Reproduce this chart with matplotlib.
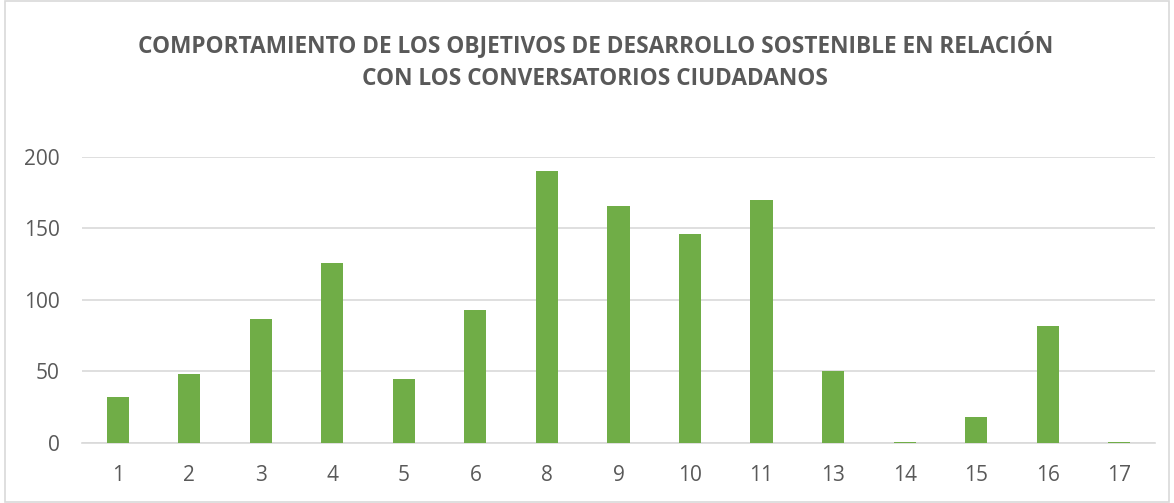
import matplotlib.pyplot as plt
import numpy as np

# Objetivos (ODS) y valores
ods = ["1", "2", "3", "4", "5", "6", "8", "9", "10", "11", "13", "14", "15", "16", "17"]
valores = [32, 48, 87, 126, 45, 93, 190, 166, 146, 170, 50, 1, 18, 82, 1]
yticks = [0, 50, 100, 150, 200]

titulo = "COMPORTAMIENTO DE LOS OBJETIVOS DE DESARROLLO SOSTENIBLE EN RELACIÓN\nCON LOS CONVERSATORIOS CIUDADANOS"

plt.rcParams['font.family'] = ['Open Sans', 'DejaVu Sans']
gris = '#595959'

fig = plt.figure(figsize=(11.74, 5.03), dpi=100)
ax = fig.add_axes([0.0698, 0.1193, 0.914, 0.5687])

x = np.arange(len(ods))
ax.bar(x, valores, width=0.31, color='#70ad47', zorder=3)

ax.set_xlim(-0.5, len(ods) - 0.5)
ax.set_ylim(0, 200)
ax.set_yticks(yticks)
ax.set_xticks(x)
ax.set_xticklabels(ods)
ax.grid(axis='y', color='#d9d9d9', linewidth=1.2, zorder=0)
for s in ['top', 'right', 'left']:
    ax.spines[s].set_visible(False)
ax.spines['bottom'].set_color('#d9d9d9')
ax.spines['bottom'].set_linewidth(1.2)
ax.tick_params(axis='both', length=0, labelsize=15, colors=gris)
ax.tick_params(axis='x', pad=16)
ax.tick_params(axis='y', pad=16)

fig.text(0.507, 0.878, titulo, ha='center', va='center', fontsize=16.3,
         fontweight='bold', color=gris, linespacing=1.5)

# borde del gráfico
borde = plt.Rectangle((0.004, 0.002), 0.992, 0.996, transform=fig.transFigure,
                      fill=False, edgecolor='#d9d9d9', linewidth=1.2)
fig.patches.append(borde)

plt.savefig("out.png", dpi=100)
